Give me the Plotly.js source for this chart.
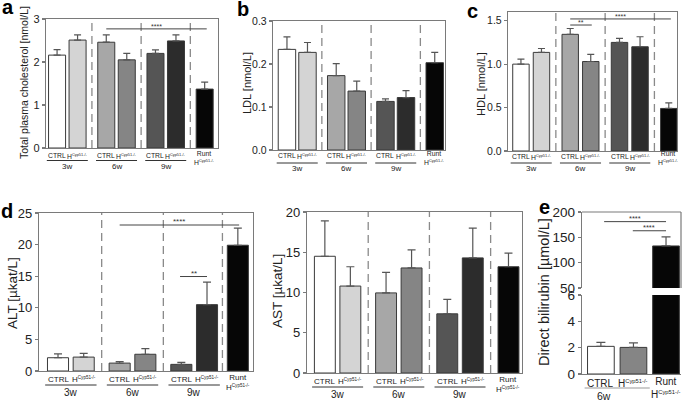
<!DOCTYPE html>
<html><head><meta charset="utf-8">
<script src="https://cdn.plot.ly/plotly-3.0.1.min.js"></script>
<style>html,body{margin:0;padding:0;background:#fff}#chart{width:685px;height:401px}</style>
</head><body><div id="chart"></div>
<script>
// ---------- DATA ----------
const groupLabels = ['3w', '6w', '9w'];
const barLabels = ['CTRL', 'H<sup>Cyp51-/-</sup>', 'CTRL', 'H<sup>Cyp51-/-</sup>', 'CTRL', 'H<sup>Cyp51-/-</sup>', 'Runt<br>H<sup>Cyp51-/-</sup>'];
const cholMean = [2.16, 2.51, 2.46, 2.05, 2.20, 2.49, 1.37];
const cholErr  = [0.13, 0.12, 0.17, 0.15, 0.08, 0.14, 0.16];
const ldlMean  = [0.234, 0.227, 0.173, 0.137, 0.113, 0.122, 0.203];
const ldlErr   = [0.029, 0.023, 0.028, 0.023, 0.006, 0.016, 0.024];
const hdlMean  = [1.00, 1.135, 1.343, 1.03, 1.25, 1.20, 0.49];
const hdlErr   = [0.057, 0.045, 0.067, 0.083, 0.046, 0.115, 0.065];
const altMean  = [2.1, 2.2, 1.25, 2.65, 1.05, 10.5, 19.9];
const altErr   = [0.6, 0.6, 0.25, 0.9, 0.3, 3.55, 2.7];
const astMean  = [14.5, 10.8, 9.95, 13.05, 7.35, 14.3, 13.2];
const astErr   = [4.4, 2.4, 2.55, 2.25, 1.8, 3.7, 1.7];
const biliGroup = ['6w'];
const biliLabels = ['CTRL', 'H<sup>Cyp51-/-</sup>', 'Runt<br>H<sup>Cyp51-/-</sup>'];
const biliMean = [2.1, 2.02, 133];
const biliErr  = [0.3, 0.35, 18];
// significance brackets: [from, to, level, label]
const sigChol = [[2, 7.3, 2.77, '****']];
const sigHdl  = [[2, 3.45, 1.45, '**'], [2, 7.3, 1.52, '****']];
const sigAlt  = [[2, 7.05, 23.1, '****'], [4.75, 5.8, 14.95, '**']];
const sigBili = [[0.1, 2.0, 181, '****'], [0.98, 2.0, 163, '****']];

// ---------- STYLE / LAYOUT ----------
const W = 685, H = 401;
const FONT = 'Liberation Sans, Arial, Helvetica, sans-serif';
const AX = '#7a7a7a';
const TXT = '#222';
const barColors = ['#ffffff', '#d4d4d4', '#a7a7a7', '#858585', '#555555', '#2c2c2c', '#060606'];
const biliColors = [barColors[0], barColors[3], barColors[6]];

const traces = [], shapes = [], annotations = [];
const layout = {
  width: W, height: H, margin: {l: 0, r: 0, t: 0, b: 0},
  paper_bgcolor: '#fff', plot_bgcolor: 'rgba(0,0,0,0)', showlegend: false,
  font: {family: FONT, color: TXT}, bargap: 0
};

function xpos(runtGap) {
  const p = [];
  for (let g = 0; g < 3; g++) { p.push(g * 2.4, g * 2.4 + 1); }
  p.push(5.8 + runtGap);
  return p;
}

let axN = 0;
function addAxes(c) {
  axN++;
  const sfx = axN === 1 ? '' : String(axN);
  const xa = 'x' + sfx, ya = 'y' + sfx;
  layout['xaxis' + sfx] = {
    domain: [c.xd[0] / W, c.xd[1] / W], range: c.xr, anchor: ya,
    showgrid: false, zeroline: false, showticklabels: false, ticks: '',
    showline: c.xline !== false, mirror: c.mirror === false ? false : true,
    linecolor: AX, linewidth: 1.2, fixedrange: true
  };
  const yax = {
    domain: [1 - c.yd[1] / H, 1 - c.yd[0] / H], range: c.yr, anchor: xa,
    showgrid: false, zeroline: false, showline: true,
    mirror: c.mirror === false ? false : true,
    linecolor: AX, linewidth: 1.2, ticks: 'outside', ticklen: 3, tickcolor: AX, tickwidth: 1.2,
    tickfont: {size: c.tickFont, family: FONT, color: TXT}, fixedrange: true
  };
  if (c.dtick) { yax.dtick = c.dtick; yax.tick0 = 0; }
  if (c.tickvals) yax.tickvals = c.tickvals;
  if (c.tf) yax.tickformat = c.tf;
  layout['yaxis' + sfx] = yax;
  return {xa, ya};
}

function addBars(ax, x, mean, err, colors, bw, cap) {
  traces.push({
    type: 'bar', x: x, y: mean, xaxis: ax.xa, yaxis: ax.ya, width: bw,
    marker: {color: colors, line: {color: '#3a3a3a', width: 1}},
    error_y: {type: 'data', symmetric: false, array: err, arrayminus: err.map(() => 0),
              color: '#555', thickness: 1.2, width: cap},
    hoverinfo: 'skip'
  });
}

function styleLabel(t, fs) {
  return t.replace(/<sup>(.*?)<\/sup>/g, '<sup><span style="font-size:' + (fs * 0.58).toFixed(1) + 'px">$1</span></sup>');
}

function addLabels(ax, x, labels, c) {
  labels.forEach((t, i) => annotations.push({
    xref: ax.xa, yref: 'paper', x: x[i], y: 1 - c.labTop / H, yanchor: 'top', xanchor: 'center',
    yshift: t.indexOf('<br>') >= 0 ? 2.5 : 0,
    text: styleLabel(t, c.labFont), showarrow: false, borderpad: 0,
    font: {size: c.labFont, family: FONT, color: TXT}
  }));
}

function addGroups(ax, groups, c) {
  groups.forEach((g, i) => {
    shapes.push({type: 'line', xref: ax.xa, yref: 'paper', x0: i * 2.4 - 0.5, x1: i * 2.4 + 1.5,
      y0: 1 - c.ul / H, y1: 1 - c.ul / H, line: {color: c.ulColor, width: c.ulW}});
    annotations.push({xref: ax.xa, yref: 'paper', x: i * 2.4 + (c.grpX !== undefined ? c.grpX : 0.5), y: 1 - c.grp / H,
      yanchor: 'middle', text: g, showarrow: false, borderpad: 0,
      font: {size: c.grpFont, family: FONT, color: TXT}});
  });
}

function addSeparators(ax, runtGap) {
  const seps = [1.7, 4.1, 5.8 + runtGap / 2];
  seps.forEach(s => shapes.push({type: 'line', xref: ax.xa, yref: ax.ya + ' domain', x0: s, x1: s, y0: 0, y1: 1,
    line: {color: '#8a8a8a', width: 1.3, dash: '8px,5px'}}));
}

function addSig(ax, sigs, x, fs) {
  sigs.forEach(s => {
    const a = Number.isInteger(s[0]) ? x[s[0]] : s[0];
    const b = s[1];
    shapes.push({type: 'line', xref: ax.xa, yref: ax.ya, x0: a, x1: b, y0: s[2], y1: s[2],
      line: {color: '#444', width: 1}});
    annotations.push({xref: ax.xa, yref: ax.ya, x: (a + b) / 2, y: s[2], yanchor: 'bottom',
      yshift: -2, text: s[3], showarrow: false, borderpad: 0, font: {size: fs, family: FONT, color: '#333'}});
  });
}

function addTitle(text, x, y, size) {
  annotations.push({xref: 'paper', yref: 'paper', x: x / W, y: 1 - y / H, xanchor: 'center', yanchor: 'middle',
    textangle: -90, text: text, showarrow: false, borderpad: 0, font: {size: size, family: FONT, color: TXT}});
}

function addLetter(t, x, y, size) {
  annotations.push({xref: 'paper', yref: 'paper', x: x / W, y: 1 - y / H, xanchor: 'center', yanchor: 'middle',
    text: '<b>' + t + '</b>', showarrow: false, borderpad: 0, font: {size: size, family: FONT, color: '#000'}});
}

function groupedPanel(c, mean, err, sigs) {
  const ax = addAxes(c);
  const x = xpos(c.runtGap);
  addSeparators(ax, c.runtGap);
  addBars(ax, x, mean, err, barColors, c.bw, c.cap);
  addLabels(ax, x, barLabels, c);
  addGroups(ax, groupLabels, c);
  if (sigs) addSig(ax, sigs, x, c.sigFont);
  addTitle(c.title, c.tx, c.ty, c.titleFont);
}

// a
groupedPanel({xd: [46, 218], yd: [19, 148], xr: [-0.54, 7.85], yr: [0, 3], dtick: 1, runtGap: 1.4, tickFont: 11,
  labTop: 151, ul: 160.5, grp: 166, labFont: 6.8, grpFont: 8, ulColor: '#333', ulW: 1, bw: 0.83, cap: 3.5, sigFont: 7,
  title: 'Total plasma cholesterol [nmol/L]', tx: 24, ty: 83, titleFont: 10.5}, cholMean, cholErr, sigChol);
// b
groupedPanel({xd: [273, 445], yd: [21, 150], xr: [-0.68, 7.7], yr: [0, 0.3], dtick: 0.1, tf: '.1f', runtGap: 1.4, tickFont: 10.5,
  labTop: 151, ul: 163, grp: 168, labFont: 6.8, grpFont: 8, ulColor: '#333', ulW: 1, bw: 0.85, cap: 3.5,
  title: 'LDL [nmol/L]', tx: 247, ty: 83, titleFont: 11}, ldlMean, ldlErr, null);
// c
groupedPanel({xd: [508, 677], yd: [12, 151], xr: [-0.63, 7.6], yr: [0, 1.6], dtick: 0.5, tf: '.1f', runtGap: 1.4, tickFont: 10.5,
  labTop: 152, ul: 163, grp: 168, labFont: 6.8, grpFont: 8, ulColor: '#999', ulW: 2, bw: 0.8, cap: 3.5, sigFont: 7,
  title: 'HDL [nmol/L]', tx: 481, ty: 84, titleFont: 11}, hdlMean, hdlErr, sigHdl);
// d ALT
groupedPanel({xd: [39, 253], yd: [213, 371], xr: [-0.74, 7.59], yr: [0, 25], dtick: 5, runtGap: 1.2, tickFont: 13,
  labTop: 374, ul: 385, grp: 392, labFont: 8, grpFont: 10, ulColor: '#333', ulW: 1, bw: 0.82, cap: 4, sigFont: 8,
  title: 'ALT [µkat/L]', tx: 12, ty: 293, titleFont: 13.5}, altMean, altErr, sigAlt);
// d AST
groupedPanel({xd: [307, 522], yd: [212, 373], xr: [-0.7, 7.73], yr: [0, 20], dtick: 5, runtGap: 1.4, tickFont: 13,
  labTop: 376, ul: 387, grp: 394, labFont: 8, grpFont: 10, ulColor: '#333', ulW: 1, bw: 0.82, cap: 4,
  title: 'AST [µkat/L]', tx: 277, ty: 291, titleFont: 13.5}, astMean, astErr, null);

// e (broken axis: upper + lower)
const eCfgUp = {xd: [582, 681], yd: [212, 288], xr: [-0.58, 2.46], yr: [50, 200], tickvals: [50, 100, 150, 200],
  tickFont: 13.5, xline: false, mirror: false};
const eCfgLo = {xd: [582, 681], yd: [295, 374], xr: [-0.58, 2.46], yr: [0, 6], tickvals: [0, 2, 4, 6],
  tickFont: 13.5, mirror: false};
const exPos = [0, 1, 2];
const axUp = addAxes(eCfgUp);
const axLo = addAxes(eCfgLo);
addBars(axUp, exPos, biliMean, biliErr, biliColors, 0.82, 4.5);
addBars(axLo, exPos, biliMean, biliErr, biliColors, 0.82, 4.5);
shapes.push({type: 'line', xref: 'paper', yref: 'paper', x0: 582 / W, x1: 681 / W, y0: 1 - 212 / H, y1: 1 - 212 / H, line: {color: AX, width: 1.2}});
shapes.push({type: 'line', xref: 'paper', yref: 'paper', x0: 681 / W, x1: 681 / W, y0: 1 - 212 / H, y1: 1 - 288 / H, line: {color: AX, width: 1.2}});
const eLab = {labTop: 377, ul: 388, grp: 395.5, labFont: 10, grpFont: 10.5, ulColor: '#999', ulW: 1.2, grpX: 0.1};
addLabels(axLo, exPos, biliLabels, eLab);
addGroups(axLo, biliGroup, eLab);
addSig(axUp, sigBili, exPos, 7.5);
addTitle('Direct bilirubin [µmol/L]', 544, 292, 14.5);

// panel letters
addLetter('a', 8, 7, 20);
addLetter('b', 243, 9, 20);
addLetter('c', 472, 11, 20);
addLetter('d', 7, 211, 20);
addLetter('e', 544, 207, 20);

layout.shapes = shapes;
layout.annotations = annotations;
Plotly.newPlot('chart', traces, layout, {staticPlot: true, displayModeBar: false});
</script>
</body></html>
